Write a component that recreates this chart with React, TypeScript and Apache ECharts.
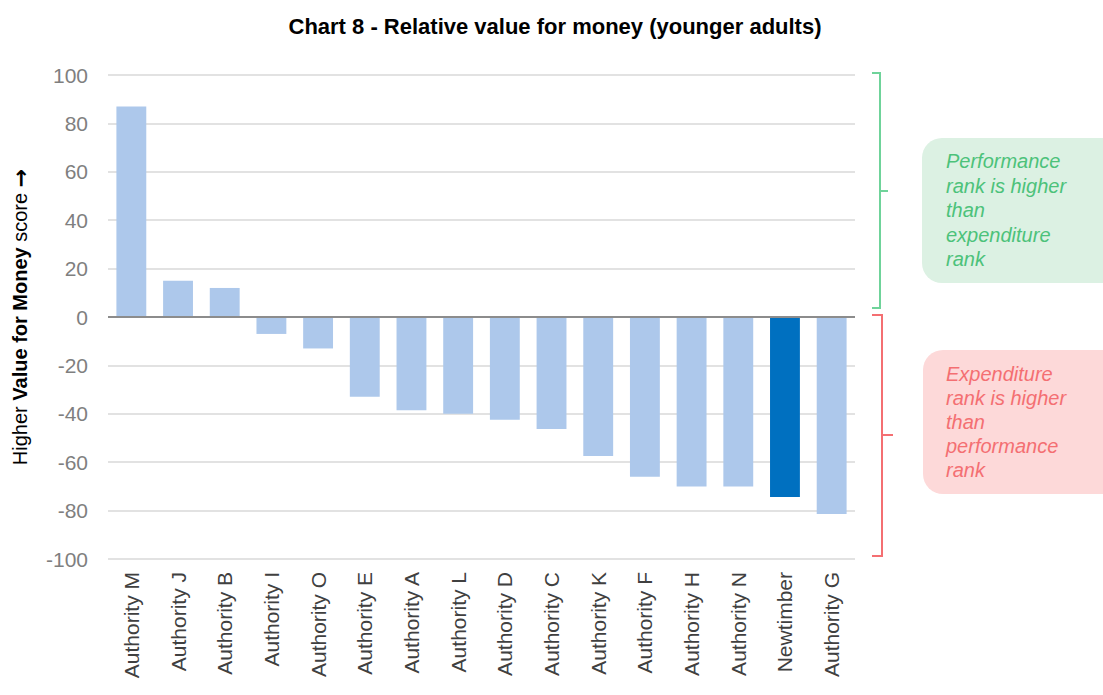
import React, { useEffect, useRef } from "react";
import * as echarts from "echarts";

const categories = [
  "Authority M", "Authority J", "Authority B", "Authority I", "Authority O", "Authority E",
  "Authority A", "Authority L", "Authority D", "Authority C", "Authority K", "Authority F",
  "Authority H", "Authority N", "Newtimber", "Authority G",
];
const values = [87, 15, 12, -7, -13, -33, -38.5, -40, -42.5, -46.3, -57.4, -66, -70, -70, -74.4, -81.4];
const highlight = "Newtimber";
const yTicks = { min: -100, max: 100, interval: 20 };

const greenLines = ["Performance", "rank is higher", "than", "expenditure", "rank"];
const redLines = ["Expenditure", "rank is higher", "than", "performance", "rank"];

export default function App() {
  const ref = useRef<HTMLDivElement>(null);
  useEffect(() => {
    document.body.style.margin = "0";
    const chart = echarts.init(ref.current!, null, { renderer: "svg" });
    const font = "'Liberation Sans', Arial, sans-serif";
    const green = "#6fd39a";
    const red = "#f46f72";
    chart.setOption({
      animation: false,
      textStyle: { fontFamily: font },
      title: {
        text: "Chart 8 - Relative value for money (younger adults)",
        left: 550,
        textAlign: "center",
        top: 10,
        textStyle: { fontSize: 22, fontWeight: "bold", color: "#000", fontFamily: font },
      },
      grid: { left: 108, right: 248, top: 75, bottom: 136, outerBoundsMode: "none", containLabel: false },
      xAxis: {
        type: "category",
        data: categories,
        axisLine: { show: false },
        axisTick: { show: false },
        axisLabel: { rotate: 90, fontSize: 21, color: "#404040", margin: 13, fontFamily: font },
      },
      yAxis: {
        type: "value",
        min: yTicks.min,
        max: yTicks.max,
        interval: yTicks.interval,
        axisLine: { show: false },
        axisTick: { show: false },
        axisLabel: { fontSize: 21, color: "#7f7f7f", margin: 20, fontFamily: font },
        splitLine: { lineStyle: { color: "#d9d9d9", width: 1.5 } },
        name: "{a|Higher }{b|Value for Money}{a| score }{c|→}",
        nameLocation: "middle",
        nameRotate: 90,
        nameGap: 77,
        nameTextStyle: {
          rich: {
            a: { fontSize: 20, color: "#000", fontFamily: font },
            b: { fontSize: 20, color: "#000", fontWeight: "bold", fontFamily: font },
            c: { fontSize: 22, color: "#000", fontWeight: "bold", fontFamily: "'DejaVu Sans', sans-serif" },
          },
        },
      },
      series: [
        {
          type: "bar",
          data: values.map((v, i) => ({
            value: v,
            itemStyle: { color: categories[i] === highlight ? "#0070c0" : "#adc8eb" },
          })),
          barWidth: "64%",
          markLine: {
            silent: true,
            symbol: "none",
            label: { show: false },
            lineStyle: { color: "#8c8c8c", width: 2, type: "solid" },
            data: [{ yAxis: 0 }],
          },
        },
      ],
      graphic: [
        {
          type: "polyline",
          shape: { points: [[872, 73], [880, 73], [880, 308], [872, 308]] },
          style: { stroke: green, lineWidth: 2, fill: "none" },
        },
        {
          type: "line",
          shape: { x1: 880, y1: 191, x2: 888, y2: 191 },
          style: { stroke: green, lineWidth: 2 },
        },
        {
          type: "polyline",
          shape: { points: [[872, 315], [882, 315], [882, 556], [872, 556]] },
          style: { stroke: red, lineWidth: 2, fill: "none" },
        },
        {
          type: "line",
          shape: { x1: 882, y1: 435, x2: 893, y2: 435 },
          style: { stroke: red, lineWidth: 2 },
        },
        {
          type: "rect",
          shape: { x: 922, y: 138, width: 200, height: 145, r: 20 },
          style: { fill: "#dcf1e3" },
        },
        {
          type: "text",
          x: 946,
          y: 149,
          style: {
            text: greenLines.join("\n"),
            fill: "#4cc27a",
            font: `italic 20px ${font}`,
            lineHeight: 24.5,
          },
        },
        {
          type: "rect",
          shape: { x: 923, y: 350, width: 200, height: 144, r: 20 },
          style: { fill: "#fdd9d9" },
        },
        {
          type: "text",
          x: 946,
          y: 362,
          style: {
            text: redLines.join("\n"),
            fill: "#f46f72",
            font: `italic 20px ${font}`,
            lineHeight: 24,
          },
        },
      ],
    });
    return () => chart.dispose();
  }, []);
  return <div ref={ref} style={{ width: 1103, height: 695 }} />;
}
